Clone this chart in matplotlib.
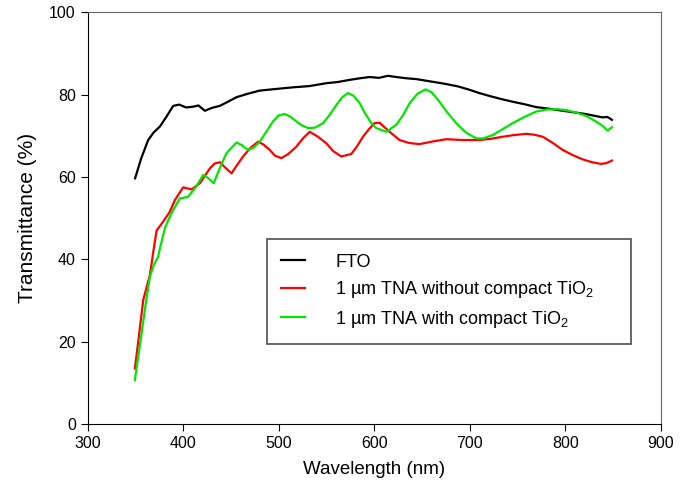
import matplotlib
matplotlib.use("Agg")
import matplotlib.pyplot as plt

plt.rcParams['font.family'] = ['Liberation Sans', 'DejaVu Sans']
plt.rcParams['mathtext.fontset'] = 'custom'
plt.rcParams['mathtext.rm'] = 'Liberation Sans'
plt.rcParams['mathtext.it'] = 'Liberation Sans'

# FTO (black)
fto_x = [349.7, 356.0, 363.4, 369.0, 375.7, 382.6, 389.6, 396.0, 403.0, 410.5, 416.0,
         422.7, 430.0, 438.4, 446.0, 455.8, 467.0, 480.0, 497.0, 515.0, 532.0, 549.8,
         562.0, 574.0, 585.0, 595.0, 605.0, 614.2, 623.0, 633.4, 644.0, 654.3, 665.0,
         675.2, 688.0, 699.6, 710.0, 720.5, 732.0, 744.8, 757.0, 769.3, 783.0, 797.1,
         810.0, 821.5, 830.0, 838.9, 844.0, 848.7]
fto_y = [59.7, 64.5, 69.0, 70.8, 72.3, 74.7, 77.3, 77.6, 76.9, 77.1, 77.4,
         76.1, 76.8, 77.3, 78.2, 79.4, 80.2, 81.0, 81.4, 81.8, 82.1, 82.8,
         83.1, 83.6, 84.0, 84.3, 84.1, 84.6, 84.3, 84.0, 83.8, 83.4, 83.0,
         82.6, 82.0, 81.2, 80.4, 79.7, 79.0, 78.3, 77.7, 77.0, 76.6, 76.1,
         75.7, 75.3, 74.9, 74.5, 74.6, 73.9]

# 1 um TNA without compact TiO2 (red)
red_x = [349.5, 354.0, 358.2, 361.5, 365.2, 368.5, 372.2, 379.1, 386.1, 391.3, 400.0,
         408.8, 417.5, 427.9, 433.0, 438.4, 444.0, 450.6, 456.0, 462.7, 470.0, 478.4,
         484.0, 490.6, 496.0, 502.8, 510.0, 518.5, 525.0, 532.4, 541.0, 549.8, 557.0,
         565.5, 575.9, 582.0, 588.1, 595.0, 600.3, 605.5, 615.0, 626.4, 636.0, 647.3,
         660.0, 675.2, 692.0, 710.0, 722.0, 734.4, 746.0, 758.8, 767.0, 776.2, 786.0,
         797.1, 808.0, 818.0, 828.0, 837.2, 843.0, 848.7]
red_y = [13.5, 22.0, 30.1, 33.0, 36.2, 41.5, 47.0, 49.2, 51.6, 54.4, 57.5,
         57.0, 58.5, 62.1, 63.3, 63.6, 62.3, 60.9, 62.8, 65.0, 67.0, 68.6,
         67.9, 66.6, 65.2, 64.6, 65.6, 67.4, 69.3, 71.0, 69.8, 68.2, 66.3,
         65.0, 65.6, 67.5, 69.8, 71.8, 73.1, 73.2, 71.2, 69.0, 68.3, 68.0,
         68.6, 69.2, 69.0, 69.0, 69.3, 69.8, 70.2, 70.5, 70.3, 69.8, 68.4,
         66.6, 65.3, 64.3, 63.6, 63.2, 63.4, 64.0]

# 1 um TNA with compact TiO2 (green)
green_x = [349.5, 353.0, 356.5, 361.0, 365.2, 369.0, 373.9, 375.7, 380.9, 386.1, 389.6,
           396.5, 405.2, 413.0, 420.9, 426.0, 432.0, 438.0, 445.3, 455.8, 461.0, 467.9,
           474.0, 480.1, 487.0, 494.0, 500.0, 506.3, 512.0, 518.5, 524.0, 530.6, 538.0,
           546.3, 553.0, 560.3, 566.0, 572.4, 578.0, 584.6, 590.0, 596.9, 602.0, 612.5,
           623.0, 630.0, 636.9, 645.0, 653.6, 660.0, 668.2, 676.0, 685.7, 696.0, 706.6,
           714.0, 723.9, 734.0, 744.8, 757.0, 769.3, 780.0, 790.2, 800.0, 811.1, 822.0,
           832.0, 839.0, 844.1, 848.7]
green_y = [10.7, 16.5, 22.0, 29.5, 35.8, 38.5, 40.7, 42.7, 47.6, 50.4, 52.0,
           54.8, 55.2, 57.5, 60.5, 59.8, 58.5, 62.0, 65.8, 68.4, 67.8, 66.6,
           67.2, 68.6, 71.0, 73.5, 75.0, 75.3, 74.7, 73.5, 72.6, 71.9, 72.0,
           73.1, 75.0, 77.5, 79.3, 80.4, 79.8, 78.0, 75.6, 73.1, 71.9, 71.0,
           72.7, 75.0, 77.9, 80.2, 81.3, 80.6, 78.3, 75.8, 73.1, 70.8, 69.4,
           69.4, 70.2, 71.6, 73.1, 74.6, 75.9, 76.4, 76.5, 76.3, 75.7, 74.8,
           73.5, 72.4, 71.3, 72.1]

labels = ['FTO', '1 \u00b5m TNA without compact TiO$_2$', '1 \u00b5m TNA with compact TiO$_2$']

fig = plt.figure(figsize=(6.92, 4.96), dpi=100)
ax = fig.add_axes([0.1266, 0.145, 0.8286, 0.83])

ax.plot(fto_x, fto_y, color='black', lw=1.6, label=labels[0])
ax.plot(red_x, red_y, color='#ff0000', lw=1.6, label=labels[1])
ax.plot(green_x, green_y, color='#00e600', lw=1.6, label=labels[2])

ax.set_xlim(300, 900)
ax.set_ylim(0, 100)
ax.set_xticks(range(300, 901, 100))
ax.set_yticks(range(0, 101, 20))
ax.tick_params(direction='out', length=5, labelsize=11.5, top=False, right=False)
ax.set_xlabel('Wavelength (nm)', fontsize=13.5, labelpad=7)
ax.set_ylabel('Transmittance (%)', fontsize=15, labelpad=9)
for s in ['top', 'right']:
    ax.spines[s].set_color('#666666')

leg = ax.legend(loc='upper left', bbox_to_anchor=(0.312, 0.449, 0.636, 0.0),
                mode='expand', fontsize=13, frameon=True, fancybox=False,
                handlelength=1.35, handletextpad=1.65, labelspacing=0.47,
                borderpad=0.8, borderaxespad=0)
leg.get_frame().set_edgecolor('#222222')
leg.get_frame().set_linewidth(1.2)

fig.savefig('out.png', dpi=100)
